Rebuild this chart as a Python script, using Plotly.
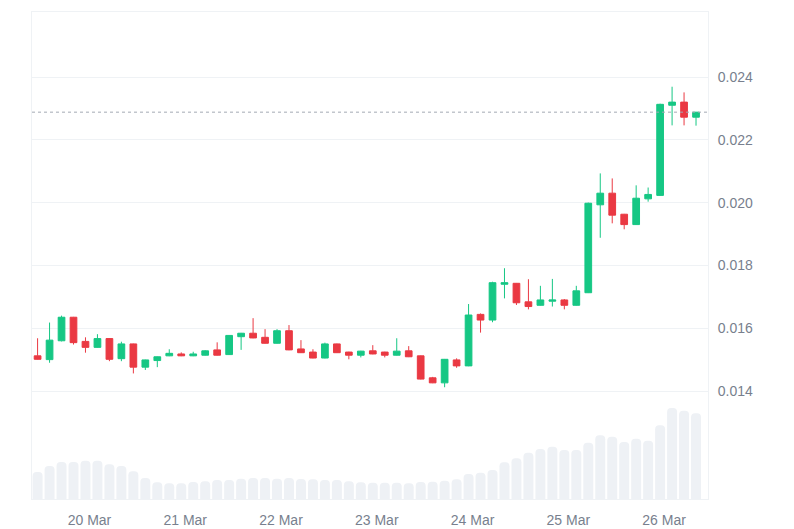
import pandas as pd
import plotly.graph_objects as go

# 3-hour candles starting 19 Mar 11:00
start_time = "2024-03-19 11:00"
n_candles = 56

opens = [0.01512, 0.01500, 0.01560, 0.01635, 0.01558, 0.01539, 0.01567, 0.01503,
         0.01550, 0.01476, 0.01497, 0.01512, 0.01518, 0.01512, 0.01514, 0.01531,
         0.01516, 0.01573, 0.01584, 0.01571, 0.01552, 0.01592, 0.01534, 0.01524,
         0.01505, 0.01550, 0.01524, 0.01514, 0.01528, 0.01524, 0.01514, 0.01528,
         0.01512, 0.01442, 0.01426, 0.01499, 0.01480, 0.01644, 0.01626, 0.01740,
         0.01743, 0.01684, 0.01673, 0.01686, 0.01690, 0.01673, 0.01713, 0.01993,
         0.02030, 0.01963, 0.01930, 0.02012, 0.02023, 0.02310, 0.02320, 0.02272]
highs = [0.01568, 0.01618, 0.01640, 0.01636, 0.01571, 0.01581, 0.01568, 0.01557,
         0.01551, 0.01500, 0.01510, 0.01533, 0.01523, 0.01525, 0.01530, 0.01555,
         0.01578, 0.01585, 0.01632, 0.01597, 0.01597, 0.01610, 0.01562, 0.01533,
         0.01554, 0.01551, 0.01525, 0.01528, 0.01546, 0.01525, 0.01568, 0.01543,
         0.01513, 0.01445, 0.01502, 0.01504, 0.01677, 0.01647, 0.01748, 0.01791,
         0.01744, 0.01756, 0.01735, 0.01757, 0.01693, 0.01735, 0.02000, 0.02093,
         0.02077, 0.01964, 0.02055, 0.02048, 0.02315, 0.02369, 0.02351, 0.02288]
lows = [0.01500, 0.01490, 0.01558, 0.01548, 0.01522, 0.01538, 0.01495, 0.01495,
        0.01456, 0.01467, 0.01476, 0.01511, 0.01511, 0.01511, 0.01513, 0.01513,
        0.01515, 0.01531, 0.01568, 0.01551, 0.01551, 0.01530, 0.01521, 0.01504,
        0.01504, 0.01521, 0.01501, 0.01507, 0.01517, 0.01507, 0.01513, 0.01508,
        0.01437, 0.01425, 0.01412, 0.01474, 0.01479, 0.01586, 0.01619, 0.01695,
        0.01674, 0.01660, 0.01672, 0.01669, 0.01660, 0.01672, 0.01712, 0.01888,
        0.01934, 0.01915, 0.01929, 0.02003, 0.02022, 0.02246, 0.02246, 0.02245]
closes = [0.01501, 0.01562, 0.01635, 0.01554, 0.01539, 0.01567, 0.01501, 0.01550,
          0.01476, 0.01499, 0.01509, 0.01520, 0.01512, 0.01518, 0.01528, 0.01514,
          0.01577, 0.01584, 0.01569, 0.01552, 0.01592, 0.01531, 0.01522, 0.01505,
          0.01550, 0.01522, 0.01514, 0.01527, 0.01518, 0.01514, 0.01527, 0.01509,
          0.01438, 0.01426, 0.01501, 0.01480, 0.01642, 0.01626, 0.01745, 0.01745,
          0.01681, 0.01669, 0.01690, 0.01690, 0.01673, 0.01719, 0.01998, 0.02030,
          0.01960, 0.01930, 0.02014, 0.02026, 0.02313, 0.02320, 0.02272, 0.02288]
volumes = [27.0, 33.0, 37.0, 37.0, 38.3, 38.3, 34.7, 33.0, 27.7, 21.0, 16.7, 15.7,
           15.7, 17.0, 17.7, 19.0, 19.0, 20.3, 21.0, 21.0, 20.3, 21.0, 20.0, 19.7,
           19.0, 19.0, 17.7, 16.7, 16.3, 16.3, 16.3, 15.7, 17.0, 17.3, 18.3, 19.7,
           25.0, 26.3, 29.0, 36.7, 40.7, 46.3, 50.0, 52.3, 49.0, 49.0, 56.3, 63.7,
           62.3, 57.0, 60.3, 58.3, 73.7, 91.0, 88.3, 85.7]
price_ticks = [0.014, 0.016, 0.018, 0.020, 0.022, 0.024]

times = pd.date_range(start_time, periods=n_candles, freq="3h")

GREEN = "#16c784"
RED = "#ea3943"
GRID = "#eff2f5"
TEXT = "#787f8e"

fig = go.Figure()
fig.add_trace(go.Bar(
    x=times, y=volumes, yaxis="y2",
    width=2.5 * 3600 * 1000,
    marker=dict(color="#eef1f5", line=dict(width=0), cornerradius=4),
    hoverinfo="skip", showlegend=False,
))
fig.add_trace(go.Candlestick(
    x=times, open=opens, high=highs, low=lows, close=closes,
    increasing=dict(line=dict(color=GREEN, width=1), fillcolor=GREEN),
    decreasing=dict(line=dict(color=RED, width=1), fillcolor=RED),
    whiskerwidth=0, showlegend=False,
))

fig.add_shape(type="line", xref="paper", x0=0, x1=1, yref="y",
              y0=closes[-1], y1=closes[-1],
              line=dict(color="#a3a9b3", width=1, dash="dot"))

fig.update_layout(
    width=794, height=529,
    margin=dict(l=32, r=86, t=12, b=30),
    paper_bgcolor="white", plot_bgcolor="white",
    boxgap=0.2,
    font=dict(family="Liberation Sans, Arial, sans-serif", size=14, color=TEXT),
    xaxis=dict(
        type="date", automargin=False,
        range=[pd.Timestamp(start_time) - pd.Timedelta(hours=1.4),
               pd.Timestamp(start_time) + pd.Timedelta(hours=168)],
        rangeslider=dict(visible=False),
        showgrid=False, zeroline=False,
        showline=True, linecolor=GRID, linewidth=1, mirror=True,
        tickformat="%d %b", dtick=86400000,
        ticks="", ticklabelstandoff=8,
        tickfont=dict(size=14, color=TEXT),
    ),
    yaxis=dict(
        side="right", automargin=False,
        range=[0.010561, 0.026070],
        tickvals=price_ticks, tickformat=".3f",
        showgrid=True, gridcolor=GRID, gridwidth=1,
        zeroline=False,
        showline=True, linecolor=GRID, linewidth=1, mirror=True,
        ticks="", ticklabelstandoff=6,
        tickfont=dict(size=14, color=TEXT),
    ),
    yaxis2=dict(
        overlaying="y", range=[0, 487], visible=False,
    ),
)

fig.write_html("out.html")
